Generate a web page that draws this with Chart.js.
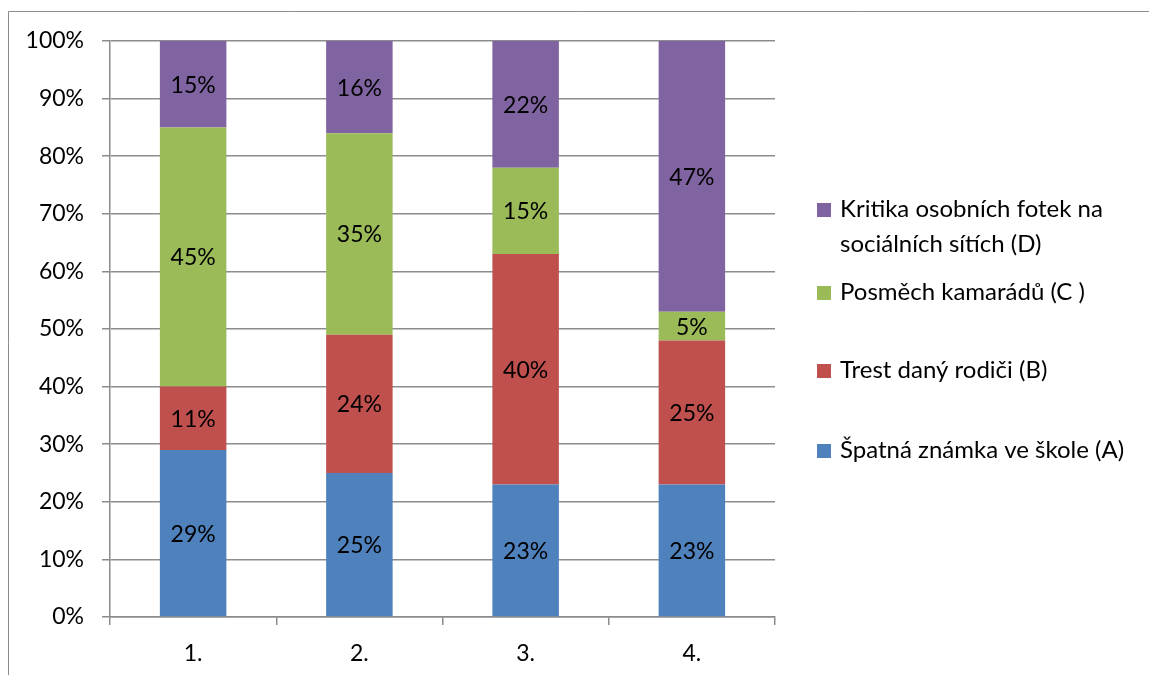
<!DOCTYPE html>
<html>
<head>
<meta charset="utf-8">
<script src="https://cdn.jsdelivr.net/npm/chart.js@4/dist/chart.umd.min.js"></script>
<style>
  body { margin: 0; background: #fff; }
  #wrap { position: relative; width: 1149px; height: 675px; }
</style>
</head>
<body>
<div id="wrap"><canvas id="graf"></canvas></div>
<script>
// data
const kategorie = ["1.", "2.", "3.", "4."];
const nazvy = [
  "Špatná známka ve škole (A)",
  "Trest daný rodiči (B)",
  "Posměch kamarádů (C )",
  "Kritika osobních fotek na sociálních sítích (D)"
];
const spatnaZnamka = [29, 25, 23, 23];
const trestRodice = [11, 24, 40, 25];
const posmech = [45, 35, 15, 5];
const kritika = [15, 16, 22, 47];
const yTicks = [0, 10, 20, 30, 40, 50, 60, 70, 80, 90, 100];

const barvy = ["#4F81BD", "#C0504D", "#9BBB59", "#8064A2"];
const pismo = "Lato, 'Open Sans', sans-serif";
const seda = "#8c8c8c";

// ramecek okolo grafu (orizly vpravo a dole)
const ramecek = {
  id: "ramecek",
  beforeDraw(chart) {
    const ctx = chart.ctx;
    ctx.save();
    ctx.strokeStyle = seda;
    ctx.lineWidth = 1;
    ctx.beginPath();
    ctx.moveTo(8.5, chart.height);
    ctx.lineTo(8.5, 11.5);
    ctx.lineTo(chart.width, 11.5);
    ctx.stroke();
    ctx.restore();
  }
};

// popisky hodnot uprostred segmentu
const popisky = {
  id: "popisky",
  afterDatasetsDraw(chart) {
    const ctx = chart.ctx;
    ctx.save();
    ctx.font = "23px " + pismo;
    ctx.fillStyle = "#000";
    ctx.textAlign = "center";
    ctx.textBaseline = "middle";
    chart.data.datasets.forEach((ds, i) => {
      chart.getDatasetMeta(i).data.forEach((el, j) => {
        ctx.fillText(ds.data[j] + "%", el.x, (el.y + el.base) / 2 + 1);
      });
    });
    ctx.restore();
  }
};

// legenda vpravo, obracene poradi, zalomeny text
const legenda = {
  id: "legenda",
  afterDraw(chart) {
    const ctx = chart.ctx;
    const radky = [
      ["Kritika osobních fotek na", "sociálních sítích (D)"],
      ["Posměch kamarádů (C )"],
      ["Trest daný rodiči (B)"],
      ["Špatná známka ve škole (A)"]
    ];
    const baseline = [217, 300, 378, 458];
    ctx.save();
    ctx.font = "24px " + pismo;
    ctx.textAlign = "left";
    ctx.textBaseline = "alphabetic";
    radky.forEach((r, k) => {
      const ds = chart.data.datasets[chart.data.datasets.length - 1 - k];
      ctx.fillStyle = ds.backgroundColor;
      ctx.fillRect(817, baseline[k] - 14, 14, 14);
      ctx.fillStyle = "#000";
      r.forEach((t, n) => ctx.fillText(t, 840, baseline[k] + n * 34.5));
    });
    ctx.restore();
  }
};

new Chart(document.getElementById("graf"), {
  type: "bar",
  data: {
    labels: kategorie,
    datasets: [
      { label: nazvy[0], data: spatnaZnamka, backgroundColor: barvy[0] },
      { label: nazvy[1], data: trestRodice, backgroundColor: barvy[1] },
      { label: nazvy[2], data: posmech, backgroundColor: barvy[2] },
      { label: nazvy[3], data: kritika, backgroundColor: barvy[3] }
    ]
  },
  options: {
    responsive: true,
    maintainAspectRatio: false,
    animation: false,
    layout: { padding: { left: 0, right: 374, top: 41, bottom: 0 } },
    datasets: { bar: { categoryPercentage: 1, barPercentage: 0.4 } },
    plugins: {
      legend: { display: false },
      tooltip: { enabled: false }
    },
    scales: {
      x: {
        stacked: true,
        afterFit: s => { s.height = 58; },
        grid: { drawOnChartArea: false, drawTicks: true, tickLength: 8, color: seda, lineWidth: 1.5, offset: true },
        border: { color: seda, width: 1.5 },
        ticks: { color: "#000", padding: 15, font: { family: pismo, size: 23 } }
      },
      y: {
        stacked: true,
        min: 0,
        max: 100,
        afterFit: s => { s.width = 110; },
        afterBuildTicks: s => { s.ticks = yTicks.map(v => ({ value: v })); },
        grid: { color: seda, lineWidth: 1.5, tickLength: 8 },
        border: { color: seda, width: 1.5 },
        ticks: {
          color: "#000",
          padding: 18,
          font: { family: pismo, size: 23 },
          callback: v => v + "%"
        }
      }
    }
  },
  plugins: [ramecek, popisky, legenda]
});
</script>
</body>
</html>
